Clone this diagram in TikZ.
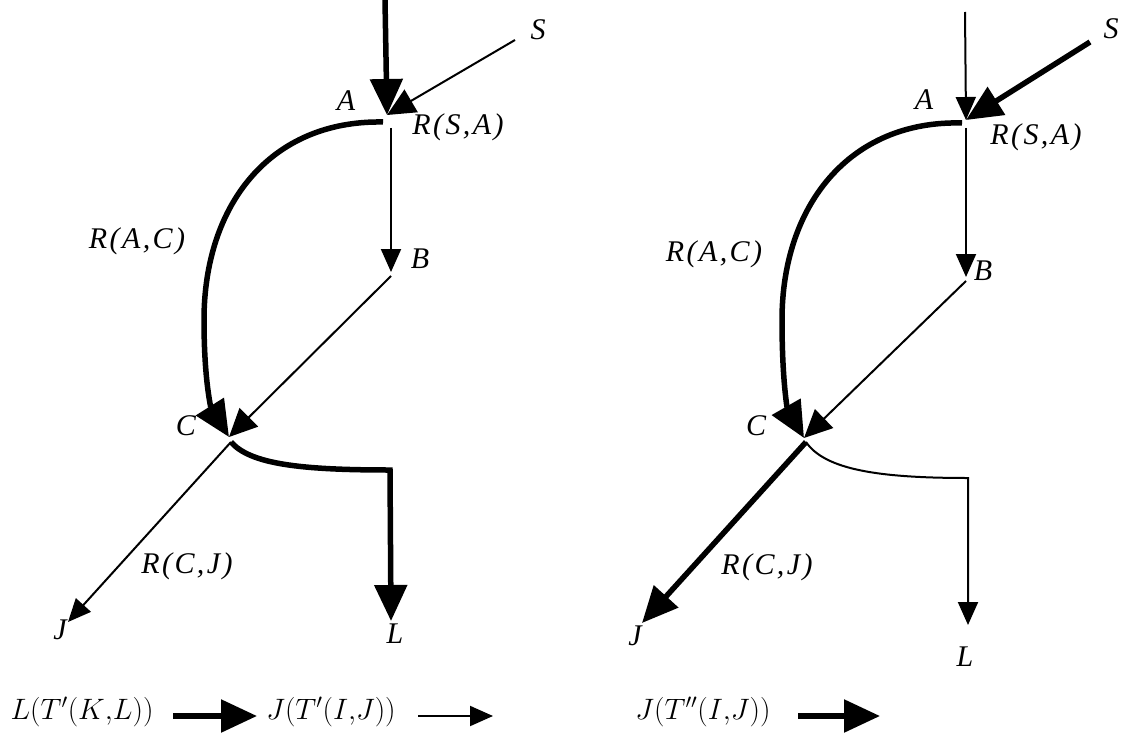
\RequirePackage{fix-cm}
\documentclass[tikz,border=0pt]{standalone}
\usepackage{fontspec}
\setmainfont{Liberation Serif}
\newfontfamily\lblfont{Liberation Serif}[LetterSpace=8]
\usetikzlibrary{arrows.meta}

\begin{document}
\begin{tikzpicture}[
            x=1pt, y=-1pt,
            heavy/.style={line width=5.5pt},
            light/.style={line width=2pt},
            big tip/.style={-{Triangle[length=36pt,width=32pt]}},
            mid tip/.style={-{Triangle[length=28pt,width=26pt]}},
            small tip/.style={-{Triangle[length=23pt,width=20pt]}}
        ]

        \tikzstyle{lbl}=[inner sep=0pt, font=\lblfont\itshape\fontsize{30}{34}\selectfont]
        \tikzstyle{key}=[inner sep=0pt, font=\fontsize{29.5}{34}\selectfont]

        \path[use as bounding box, fill=white] (0,0) rectangle (1121,733);

        % left network: T'
        \coordinate (top1) at (385,0);
        \coordinate (s1) at (515,40);
        \coordinate (a1) at (387,115);
        \coordinate (a1c) at (383,122);
        \coordinate (a1v) at (391,128);
        \coordinate (b1) at (391,272);
        \coordinate (b1o) at (391,276);
        \coordinate (c1) at (229,437);
        \coordinate (c1o) at (231,442);
        \coordinate (j1) at (68,622);
        \coordinate (k1) at (390,470);
        \coordinate (l1) at (391,621);

        \node[lbl] (ls1) at (538,30) {S};
        \node[lbl] (la1) at (346,101) {A};
        \node[lbl] (lsa1) at (458,127) {R(S,A)};
        \node[lbl] (lb1) at (420,259) {B};
        \node[lbl] (lac1) at (137,241) {R(A,C)};
        \node[lbl] (lc1) at (186,426) {C};
        \node[lbl] (lcj1) at (187,566) {R(C,J)};
        \node[lbl] (lj1) at (60,630) {J};
        \node[lbl] (ll1) at (395,634) {L};

        \path[heavy, big tip] (top1) edge (a1);
        \path[light, mid tip] (s1) edge (a1);
        \path[light, small tip] (a1v) edge (b1);
        \path[light, mid tip] (b1o) edge (c1);
        \path[light, small tip] (c1o) edge (j1);
        \draw[heavy, big tip] (a1c) .. controls (270,120) and (204,205) .. (204,320)
            .. controls (204,385) and (212,410) .. (c1);
        \draw[heavy, big tip] (c1o) .. controls (250,464) and (300,470) .. (k1) -- (l1);

        % right network: T''
        \coordinate (top2) at (965,12);
        \coordinate (s2) at (1090,42);
        \coordinate (a2) at (966,120);
        \coordinate (a2c) at (962,123);
        \coordinate (a2v) at (966,128);
        \coordinate (b2) at (966,277);
        \coordinate (b2o) at (966,281);
        \coordinate (c2) at (804,438);
        \coordinate (c2o) at (806,442);
        \coordinate (j2) at (642,623);
        \coordinate (k2) at (968,478);
        \coordinate (l2) at (968,625);

        \node[lbl] (ls2) at (1111,29) {S};
        \node[lbl] (la2) at (924,100) {A};
        \node[lbl] (lsa2) at (1036,137) {R(S,A)};
        \node[lbl] (lb2) at (983,271) {B};
        \node[lbl] (lac2) at (714,254) {R(A,C)};
        \node[lbl] (lc2) at (756,426) {C};
        \node[lbl] (lcj2) at (767,567) {R(C,J)};
        \node[lbl] (lj2) at (635,636) {J};
        \node[lbl] (ll2) at (965,657) {L};

        \path[light, small tip] (top2) edge (a2);
        \path[heavy, big tip] (s2) edge (a2);
        \path[light, small tip] (a2v) edge (b2);
        \path[light, mid tip] (b2o) edge (c2);
        \path[heavy, big tip] (c2o) edge (j2);
        \draw[heavy, big tip] (a2c) .. controls (850,120) and (782,205) .. (782,320)
            .. controls (782,385) and (788,410) .. (c2);
        \draw[light, small tip] (c2o) .. controls (825,470) and (880,478) .. (k2) -- (l2);

        % legend
        \node[key] (kl) at (82,712) {$L(T'(K{,}L))$};
        \coordinate (kl0) at (173,716);
        \coordinate (kl1) at (257,716);
        \node[key] (kj) at (331,712) {$J(T'(I{,}J))$};
        \coordinate (kj0) at (418,716);
        \coordinate (kj1) at (493,716);
        \node[key] (kjj) at (703,712) {$J(T''(I{,}J))$};
        \coordinate (kjj0) at (798,716);
        \coordinate (kjj1) at (880,716);

        \path[heavy, big tip] (kl0) edge (kl1);
        \path[light, small tip] (kj0) edge (kj1);
        \path[heavy, big tip] (kjj0) edge (kjj1);

    \end{tikzpicture}
\end{document}
